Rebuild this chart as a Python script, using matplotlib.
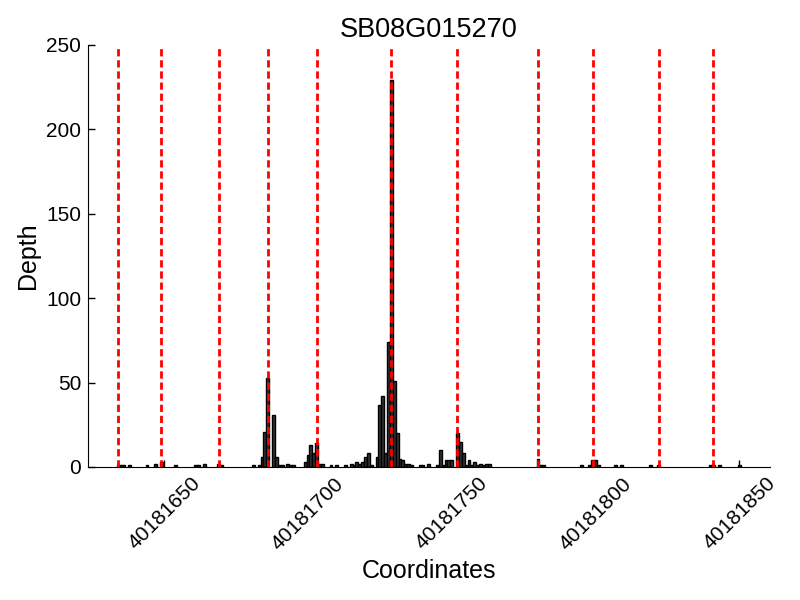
import matplotlib
matplotlib.use("Agg")
import matplotlib.pyplot as plt

plt.rcParams['font.family'] = ['Liberation Sans', 'DejaVu Sans']

title = "SB08G015270"
positions = [40181634, 40181635, 40181636, 40181638, 40181644, 40181647, 40181649,
             40181654, 40181661, 40181662, 40181664, 40181669, 40181670, 40181681,
             40181683, 40181684, 40181685, 40181686, 40181688, 40181689, 40181690,
             40181691, 40181693, 40181694, 40181695, 40181699, 40181700, 40181701,
             40181702, 40181703, 40181704, 40181705, 40181708, 40181710, 40181713,
             40181715, 40181716, 40181717, 40181718, 40181719, 40181720, 40181721,
             40181722, 40181724, 40181725, 40181726, 40181727, 40181728, 40181729,
             40181730, 40181731, 40181732, 40181733, 40181734, 40181735, 40181736,
             40181739, 40181740, 40181742, 40181745, 40181746, 40181747, 40181748,
             40181749, 40181750, 40181752, 40181753, 40181754, 40181755, 40181756,
             40181757, 40181758, 40181759, 40181760, 40181761, 40181762, 40181763,
             40181780, 40181781, 40181782, 40181795, 40181798, 40181799, 40181800,
             40181801, 40181807, 40181809, 40181819, 40181822, 40181840, 40181841,
             40181843, 40181850]
depths = [1, 1, 1, 1, 1, 2, 3,
          1, 1, 1, 2, 2, 1, 1,
          1, 6, 21, 53, 31, 6, 1,
          1, 2, 1, 1, 3, 7, 13,
          8, 14, 2, 2, 1, 1, 1,
          2, 1, 3, 2, 3, 6, 8,
          1, 6, 37, 42, 8, 74, 229,
          51, 20, 5, 4, 2, 2, 1,
          1, 1, 2, 1, 10, 1, 4,
          4, 4, 20, 15, 8, 1, 4,
          1, 3, 1, 2, 1, 2, 2,
          5, 1, 1, 1, 1, 4, 4,
          1, 1, 1, 1, 1, 1, 1,
          1, 1]
red_lines = [40181634, 40181649, 40181669, 40181686, 40181703, 40181729,
             40181752, 40181780, 40181799, 40181822, 40181841]
xticks = [40181650, 40181700, 40181750, 40181800, 40181850]
yticks = [0, 50, 100, 150, 200, 250]

fig = plt.figure(figsize=(8, 6), dpi=100)
ax = fig.add_axes([0.11, 0.2217, 0.8525, 0.7033])

ax.bar(positions, depths, width=1, align='center', color='#333333',
       edgecolor='black', linewidth=1, zorder=2)
for r in red_lines:
    ln = ax.axvline(r, color='#ff0000', linewidth=2, zorder=3)
    ln.set_dashes((2.6, 1.4))

ax.set_xlim(40181623.5, 40181860.7)
ax.set_ylim(0, 250)
ax.set_xticks(xticks)
ax.set_xticklabels([str(t) for t in xticks], rotation=45, fontsize=15)
ax.set_yticks(yticks)
ax.set_yticklabels([str(t) for t in yticks], fontsize=15)
ax.tick_params(direction='in', length=5, width=1, top=False, right=False, pad=5)
ax.spines['top'].set_visible(False)
ax.spines['right'].set_visible(False)
ax.set_xlabel("Coordinates", fontsize=18)
ax.set_ylabel("Depth", fontsize=18)
ax.set_title(title, fontsize=19.5)

fig.savefig("out.png", dpi=100)
